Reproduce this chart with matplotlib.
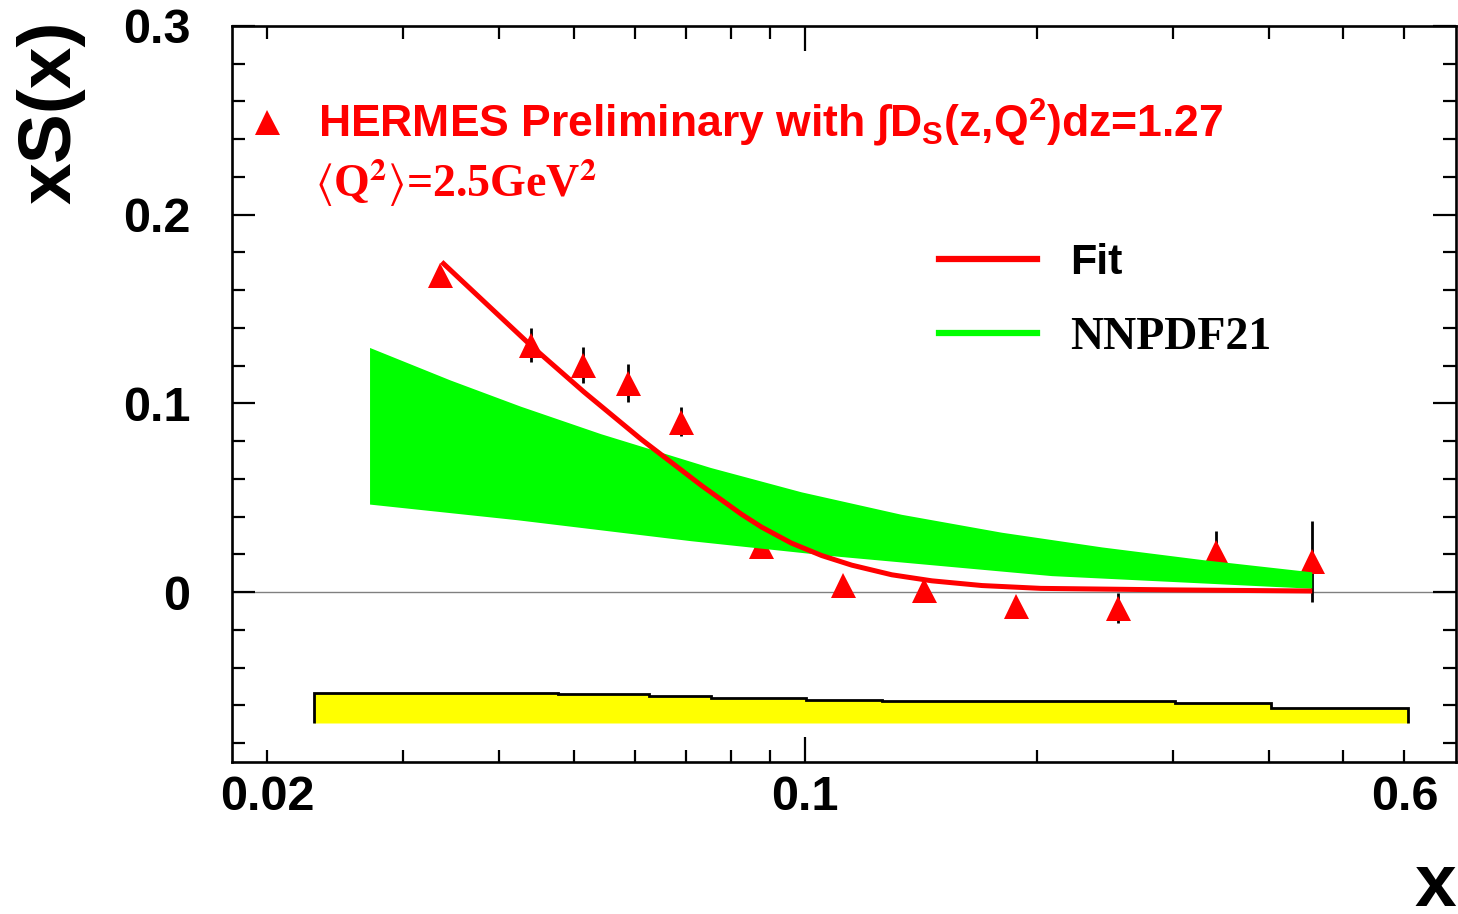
import matplotlib
matplotlib.use("Agg")
import matplotlib.pyplot as plt
from matplotlib.lines import Line2D
from matplotlib.ticker import FixedLocator, FuncFormatter, MultipleLocator, NullFormatter

# ---------------- data ----------------
# HERMES preliminary points
x_pts = [0.0335, 0.0440, 0.0515, 0.0589, 0.0690, 0.0877, 0.112, 0.1427, 0.1878, 0.2549, 0.3413, 0.455]
y_pts = [0.168, 0.131, 0.1205, 0.1108, 0.0904, 0.0247, 0.0037, 0.0010, -0.0076, -0.0085, 0.0213, 0.0163]
y_err = [0.004, 0.009, 0.0095, 0.010, 0.0075, 0.005, 0.004, 0.004, 0.004, 0.008, 0.011, 0.0215]

# Fit curve
fit_x = [0.0337, 0.0440, 0.0516, 0.0612, 0.0733, 0.0826, 0.0877, 0.0959, 0.1050, 0.1149,
         0.1295, 0.1460, 0.1696, 0.2023, 0.30, 0.4554]
fit_y = [0.175, 0.1307, 0.106, 0.081, 0.0565, 0.0413, 0.0345, 0.026, 0.0194, 0.0143,
         0.0092, 0.0060, 0.0035, 0.0020, 0.0012, 0.0006]

# NNPDF21 band (upper and lower edges)
nn_up_x = [0.0272, 0.0346, 0.0427, 0.0543, 0.0754, 0.0989, 0.1334, 0.1800, 0.2430, 0.3280, 0.4554]
nn_up_y = [0.1294, 0.1122, 0.0983, 0.0837, 0.0658, 0.0529, 0.0410, 0.0315, 0.0237, 0.0170, 0.0105]
nn_lo_x = [0.0272, 0.0423, 0.0711, 0.1082, 0.2091, 0.4554]
nn_lo_y = [0.0464, 0.0381, 0.0270, 0.0191, 0.0085, 0.0018]

# systematic band (step histogram)
sys_edges = [0.023, 0.0477, 0.0627, 0.0753, 0.1003, 0.1257, 0.302, 0.4025, 0.6065]
sys_top = [-0.0537, -0.0542, -0.0551, -0.0563, -0.0572, -0.0577, -0.0586, -0.0612]
sys_base = -0.0692

x_major = [0.1]
x_minor = [0.02, 0.03, 0.04, 0.05, 0.06, 0.07, 0.08, 0.09, 0.2, 0.3, 0.4, 0.5, 0.6]
x_minor_labeled = {0.02: "0.02", 0.6: "0.6"}

label_1 = "HERMES Preliminary with \u222bD$_{S}$(z,Q$^{2}$)dz=1.27"
label_2 = r"$\langle$Q$^{\mathbf{2}}$$\rangle$=2.5GeV$^{\mathbf{2}}$"
legend_labels = ["Fit", "NNPDF21"]

# ---------------- styling ----------------
RED = "#ff0000"
GREEN = "#00ff00"
YELLOW = "#ffff00"
SANS = "Liberation Sans"
SERIF = "Liberation Serif"

plt.rcParams["mathtext.fontset"] = "custom"
plt.rcParams["mathtext.rm"] = "Liberation Sans:bold"
plt.rcParams["mathtext.it"] = "Liberation Sans:bold"
plt.rcParams["mathtext.bf"] = "Liberation Sans:bold"
plt.rcParams["mathtext.sf"] = "Liberation Sans:bold"

fig = plt.figure(figsize=(14.58, 9.14), dpi=100)
ax = fig.add_axes([232 / 1458, 1 - 762 / 914, (1456 - 232) / 1458, (762 - 26) / 914])

ax.set_xscale("log")
ax.set_xlim(0.018, 0.70)
ax.set_ylim(-0.09, 0.30)

# zero line
ax.axhline(0, color="#808080", lw=1.0, zorder=1)

# systematic band
ax.stairs(sys_top, sys_edges, baseline=sys_base, fill=True, facecolor=YELLOW,
          edgecolor="black", linewidth=2.0, zorder=2)

# data points
ax.errorbar(x_pts, y_pts, yerr=y_err, fmt="none", ecolor="black", elinewidth=2.0,
            capsize=0, zorder=3)
ax.plot(x_pts, y_pts, linestyle="none", marker="^", markersize=18, color=RED,
        markeredgewidth=0, zorder=4)

# NNPDF band
ax.fill(nn_up_x + nn_lo_x[::-1], nn_up_y + nn_lo_y[::-1], color=GREEN, linewidth=0, zorder=5)

# fit
ax.plot(fit_x, fit_y, color=RED, lw=3.6, zorder=6, solid_capstyle="butt",
        solid_joinstyle="round")

# ---------------- axes ----------------
for sp in ax.spines.values():
    sp.set_linewidth(1.9)

ax.xaxis.set_major_locator(FixedLocator(x_major))
ax.xaxis.set_minor_locator(FixedLocator(x_minor))
ax.xaxis.set_major_formatter(FuncFormatter(lambda v, p: "0.1"))
ax.xaxis.set_minor_formatter(FuncFormatter(
    lambda v, p: next((s for k, s in x_minor_labeled.items() if abs(v - k) < 1e-9), "")))

ax.yaxis.set_major_locator(MultipleLocator(0.1))
ax.yaxis.set_minor_locator(MultipleLocator(0.02))
ax.yaxis.set_major_formatter(FuncFormatter(lambda v, p: "0" if abs(v) < 1e-9 else f"{v:.1f}"))
ax.yaxis.set_minor_formatter(NullFormatter())

ax.tick_params(which="both", direction="in", top=True, right=True, width=1.6)
ax.tick_params(axis="x", which="major", length=18, pad=9)
ax.tick_params(axis="x", which="minor", length=9, pad=9)
ax.tick_params(axis="y", which="major", length=16.5, pad=30)
ax.tick_params(axis="y", which="minor", length=9.5)

for lab in ax.get_xticklabels(which="both") + ax.get_yticklabels():
    lab.set_fontfamily(SANS)
    lab.set_fontweight("bold")
    lab.set_fontsize(35)

ax.set_ylabel("xS(x)", fontsize=54, fontweight="bold", family=SANS)
ax.yaxis.set_label_coords(-0.120, 0.883)
ax.set_xlabel("x", fontsize=54, fontweight="bold", family=SANS)
ax.xaxis.set_label_coords(0.983, -0.122)

# ---------------- annotations ----------------
ax.plot([0.0286], [0.8696], transform=ax.transAxes, linestyle="none", marker="^",
        markersize=18, color=RED, markeredgewidth=0, clip_on=False)
ax.text(0.0703, 0.849, label_1, transform=ax.transAxes, color=RED, fontsize=32,
        fontweight="bold", family=SANS, va="baseline", ha="left")
ax.text(0.0678, 0.7677, label_2, transform=ax.transAxes, color=RED, fontsize=33,
        fontweight="bold", family=SERIF, va="baseline", ha="left", math_fontfamily="stix")

handles = [Line2D([], [], color=RED, lw=4.5), Line2D([], [], color=GREEN, lw=4.5)]
leg = ax.legend(handles, legend_labels, loc="upper left", bbox_to_anchor=(0.578, 0.705),
                frameon=False, borderpad=0, borderaxespad=0, handlelength=2.2,
                handletextpad=0.75, labelspacing=0.75,
                prop={"family": SANS, "weight": "bold", "size": 32})
t_fit, t_nn = leg.get_texts()
t_fit.set_fontsize(31)
t_nn.set_fontfamily(SERIF)
t_nn.set_fontsize(33)

fig.savefig("out.png", dpi=100)
